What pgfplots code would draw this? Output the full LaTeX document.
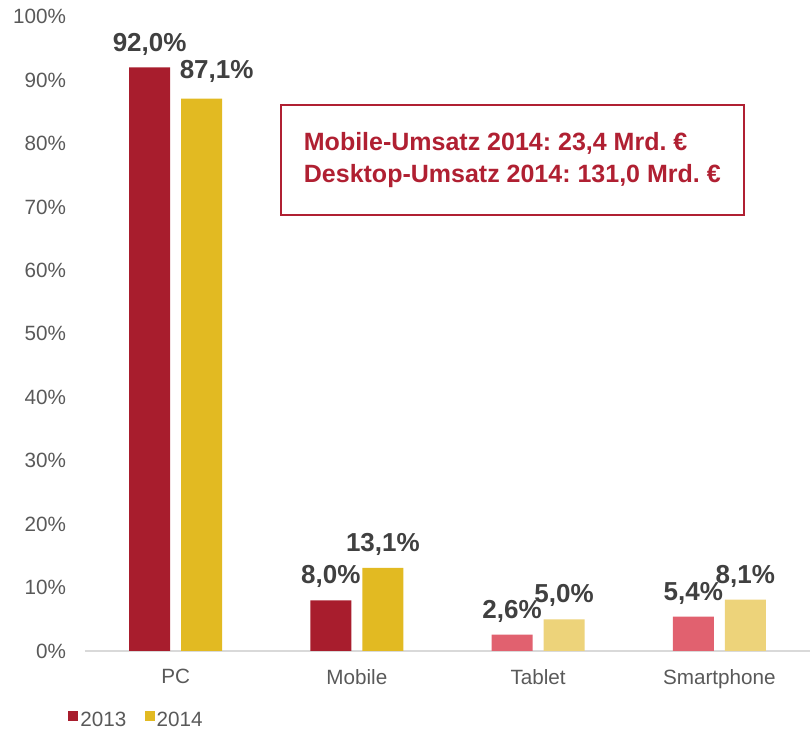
\documentclass[border=0pt]{standalone}
\usepackage{pgfplots}
\pgfplotsset{compat=1.18}
\usepackage{pgfplotstable}
\usepackage{fontspec}
\setmainfont{Liberation Sans}
\frenchspacing
\definecolor{darkred}{RGB}{168,29,45}
\definecolor{gold}{RGB}{226,186,34}
\definecolor{lightred}{RGB}{225,97,111}
\definecolor{lightgold}{RGB}{237,211,122}
\definecolor{tickgray}{RGB}{89,89,89}
\definecolor{lblgray}{RGB}{64,64,64}
\definecolor{axisgray}{RGB}{217,217,217}
\definecolor{boxred}{RGB}{176,32,50}
\pgfplotstableread{
x y dx dy
0 92.0 0 9
1 8.0 0 9
}\tabA
\pgfplotstableread{
x y dx dy
2 2.6 0 9
3 5.4 0 9
}\tabB
\pgfplotstableread{
x y dx dy
0 87.1 11.25 11.5
1 13.1 0 9
}\tabC
\pgfplotstableread{
x y dx dy
2 5.0 0 9
3 8.1 0 9
}\tabD
\begin{document}
\begin{tikzpicture}
\begin{axis}[
  at={(63.75pt,60.75pt)}, anchor=south west,
  scale only axis, width=543.75pt, height=475.7pt,
  xmin=-0.5, xmax=3.5, ymin=0, ymax=100,
  ybar, bar width=30.75pt,
  axis lines=left,
  x axis line style={-, draw=axisgray, line width=1.1pt},
  y axis line style={draw=none},
  major tick length=0pt,
  tick style={draw=none},
  xtick={0,1,2,3}, xticklabels={PC,Mobile,Tablet,Smartphone},
  ytick={0,10,20,30,40,50,60,70,80,90,100},
  yticklabels={0\%,10\%,20\%,30\%,40\%,50\%,60\%,70\%,80\%,90\%,100\%},
  tick label style={font=\fontsize{15.5pt}{18pt}\selectfont, text=tickgray},
  yticklabel style={anchor=east, inner sep=0pt, xshift=-14pt},
  xticklabel style={anchor=north, inner sep=0pt, yshift=-13.5pt},
  clip=false,
  visualization depends on={\thisrow{dx}\as\dx},
  visualization depends on={\thisrow{dy}\as\dy},
  nodes near coords={\pgfmathprintnumber[fixed,fixed zerofill,precision=1,use comma,assume math mode=true]{\pgfplotspointmeta}\%},
  every node near coord/.append style={font=\fontsize{19.5pt}{20pt}\selectfont\bfseries, text=lblgray, inner sep=0pt, anchor=south, xshift=\dx pt, yshift=\dy pt},
  legend style={at={(-0.0234,-0.110)}, anchor=west, draw=none, fill=none, inner sep=0pt,
    legend columns=2, font=\fontsize{15.5pt}{18pt}\selectfont, text=tickgray,
    nodes={inner sep=1.5pt},
    /tikz/every even column/.append style={column sep=12.25pt}},
  legend image code/.code={\fill[#1] (0pt,0pt) rectangle (7.5pt,7.5pt);},
]
\addplot[fill=darkred, draw=none, bar shift=-19.5pt] table[x=x,y=y] {\tabA};
\addplot[fill=lightred, draw=none, bar shift=-19.5pt, forget plot] table[x=x,y=y] {\tabB};
\addplot[fill=gold, draw=none, bar shift=19.5pt] table[x=x,y=y] {\tabC};
\addplot[fill=lightgold, draw=none, bar shift=19.5pt, forget plot] table[x=x,y=y] {\tabD};
\legend{2013,2014}
\node[draw=boxred, line width=1.2pt, anchor=north west, inner sep=0pt,
  minimum width=347.25pt, minimum height=82.5pt, align=left,
  font=\fontsize{18.75pt}{24pt}\selectfont\bfseries, text=boxred]
  at (rel axis cs:0.269,0.8624) {Mobile-Umsatz 2014: 23,4 Mrd. €\\Desktop-Umsatz 2014: 131,0 Mrd. €};
\end{axis}
\pgfresetboundingbox
\useasboundingbox (0,0) rectangle (608.25pt,549pt);
\end{tikzpicture}
\end{document}
